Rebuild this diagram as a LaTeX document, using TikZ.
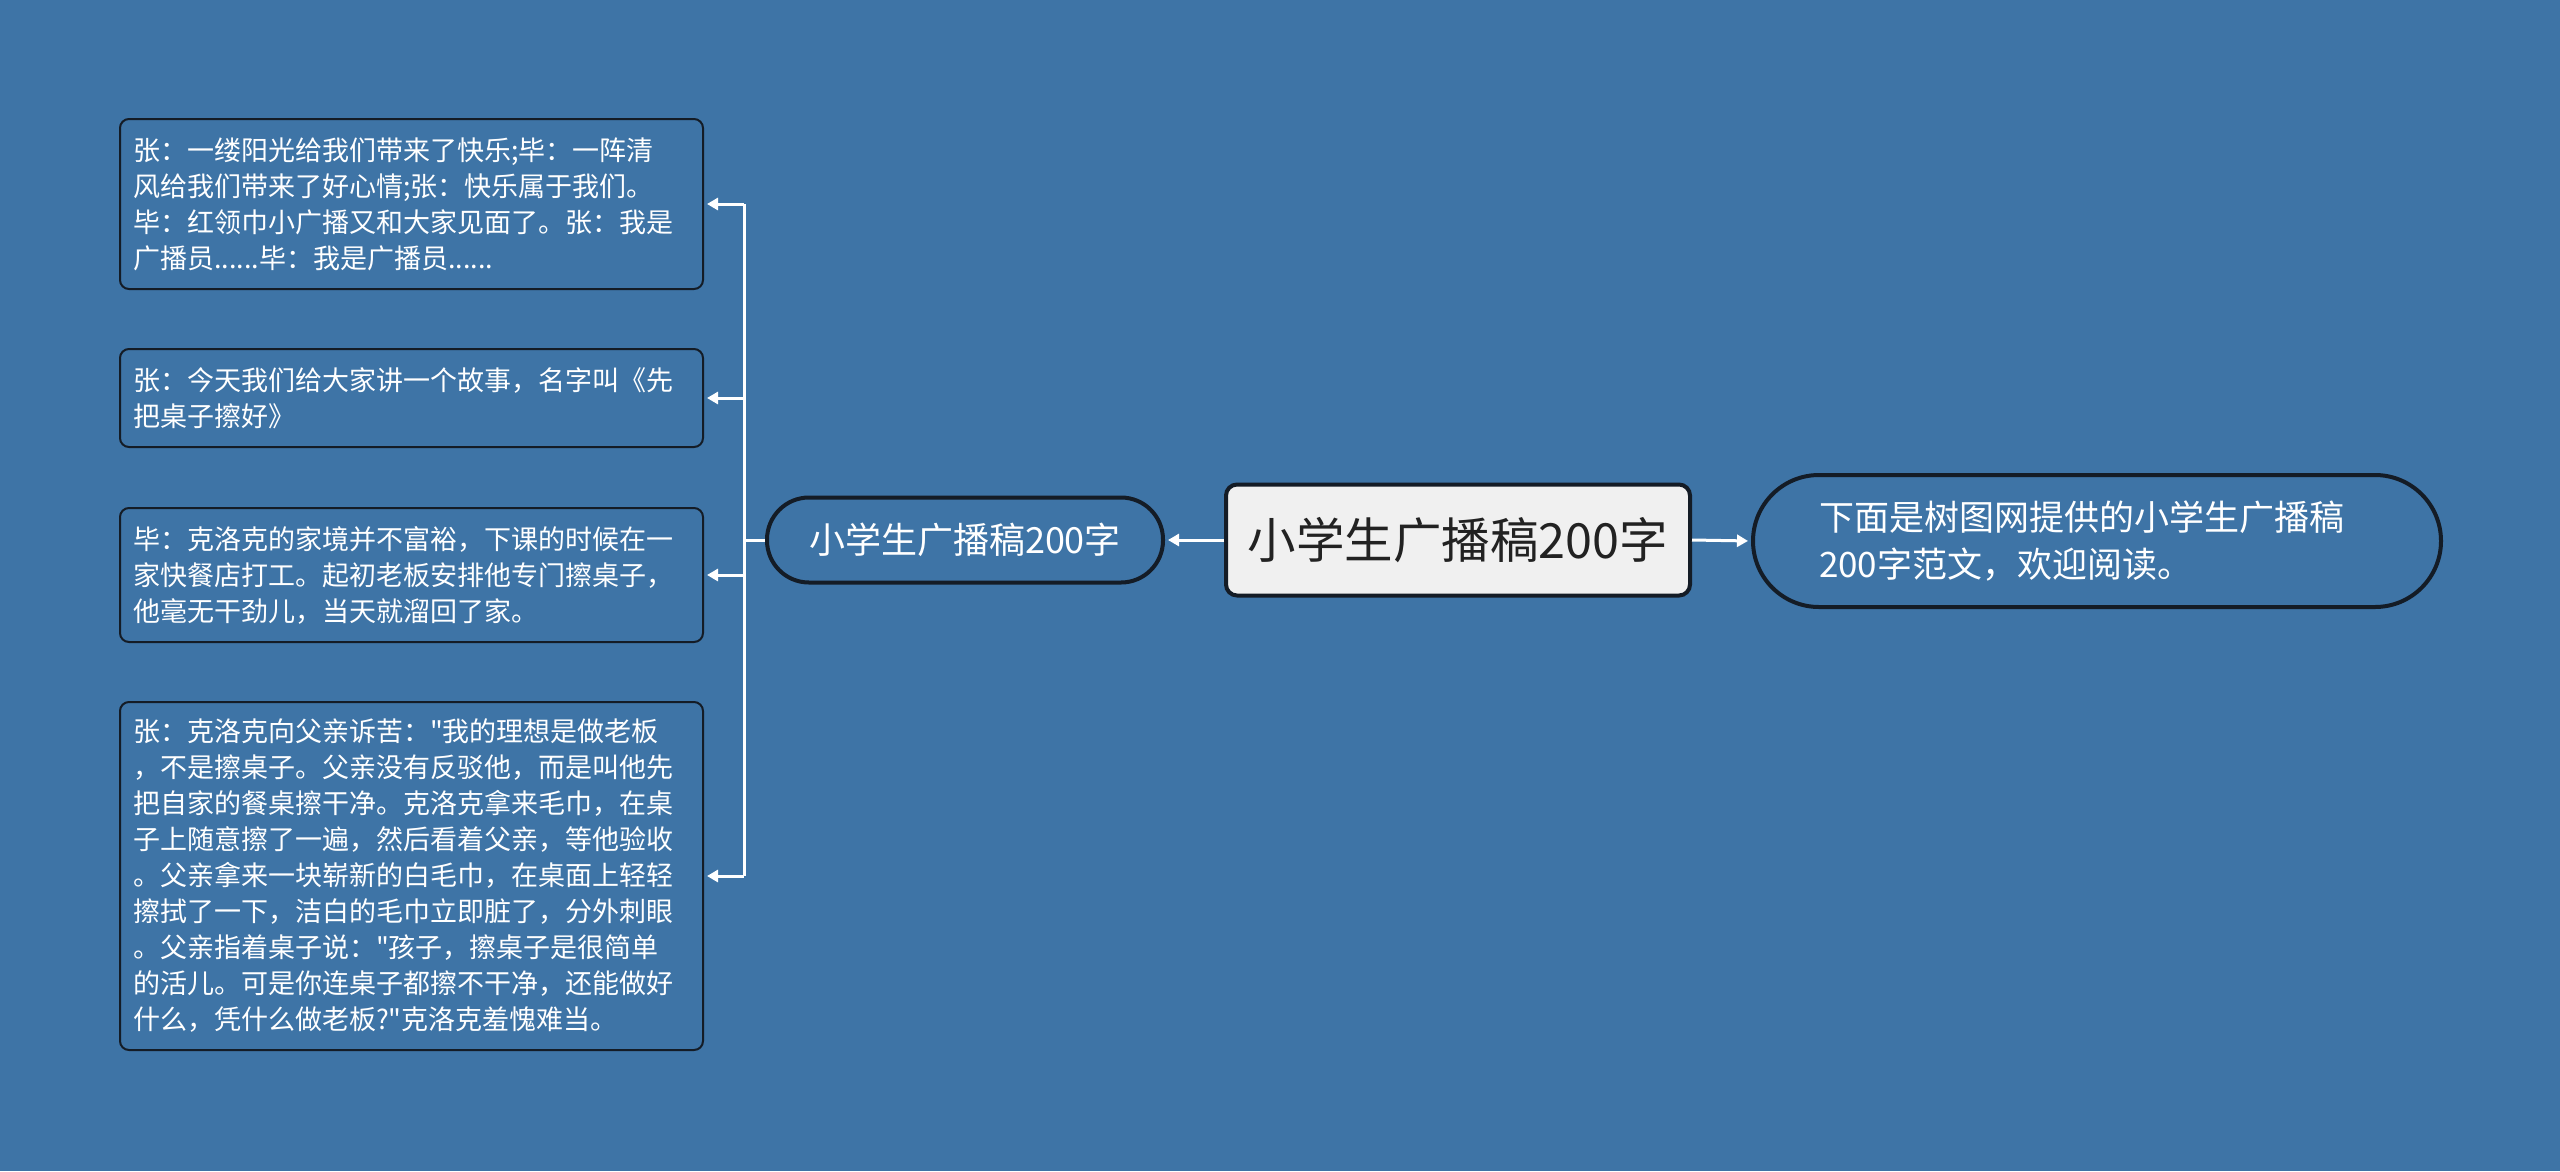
\documentclass[tikz,border=0pt]{standalone}
\usepackage{fontspec}
\setmainfont{Noto Sans CJK SC}
\newfontfamily\cjkfont{Noto Sans CJK SC}
\usetikzlibrary{arrows.meta}
\definecolor{bgblue}{RGB}{62,116,166}
\definecolor{edgedark}{RGB}{20,28,38}
\definecolor{rootfill}{RGB}{240,240,240}
\definecolor{roottext}{RGB}{34,34,34}
\tikzset{
  leafbox/.style={draw=edgedark, line width=2pt, fill=bgblue, rounded corners=9pt,
    text=white, align=left, text width=557pt, inner xsep=13pt, inner ysep=0pt,
    anchor=west, font=\cjkfont\fontsize{27}{36}\selectfont},
  pillbox/.style={draw=edgedark, line width=4pt, fill=bgblue, text=white,
    inner sep=0pt, align=left},
  rootbox/.style={draw=edgedark, line width=4pt, fill=rootfill, text=roottext,
    rounded corners=11pt, inner sep=0pt, font=\cjkfont\fontsize{48.5}{56}\selectfont},
  conn/.style={draw=white, line width=3pt},
  arr/.style={conn, -{Triangle[width=12pt,length=11pt]}, shorten >=3pt},
}
\begin{document}
\begin{tikzpicture}[x=1pt,y=-1pt]
\useasboundingbox[fill=bgblue] (0,0) rectangle (2560,1171);

\node[leafbox, minimum height=170pt] (b1) at (119,204) {张：一缕阳光给我们带来了快乐;毕：一阵清\\风给我们带来了好心情;张：快乐属于我们。\\毕：红领巾小广播又和大家见面了。张：我是\\广播员......毕：我是广播员......};
\node[leafbox, minimum height=98pt] (b2) at (119,398) {张：今天我们给大家讲一个故事，名字叫《先\\把桌子擦好》};
\node[leafbox, minimum height=134pt] (b3) at (119,575) {毕：克洛克的家境并不富裕，下课的时候在一\\家快餐店打工。起初老板安排他专门擦桌子，\\他毫无干劲儿，当天就溜回了家。};
\node[leafbox, minimum height=348pt] (b4) at (119,876) {张：克洛克向父亲诉苦："我的理想是做老板\\，不是擦桌子。父亲没有反驳他，而是叫他先\\把自家的餐桌擦干净。克洛克拿来毛巾，在桌\\子上随意擦了一遍，然后看着父亲，等他验收\\。父亲拿来一块崭新的白毛巾，在桌面上轻轻\\擦拭了一下，洁白的毛巾立即脏了，分外刺眼\\。父亲指着桌子说："孩子，擦桌子是很简单\\的活儿。可是你连桌子都擦不干净，还能做好\\什么，凭什么做老板?"克洛克羞愧难当。};

\node[pillbox, rounded corners=42pt, minimum width=396pt, minimum height=85pt,
  font=\cjkfont\fontsize{36}{44}\selectfont] (sub) at (965,540) {小学生广播稿200字};
\node[rootbox, minimum width=464pt, minimum height=111pt] (root) at (1458,540) {小学生广播稿200字};
\node[pillbox, rounded corners=66pt, text width=556pt, inner xsep=66pt, minimum height=132pt,
  font=\cjkfont\fontsize{35}{47}\selectfont] (desc) at (2097,541) {下面是树图网提供的小学生广播稿\\200字范文，欢迎阅读。};

\coordinate (spine) at (744,540);
\draw[conn] (sub.west) -- (spine);
\draw[conn] (spine |- b1.east) -- (spine |- b4.east);
\foreach \b in {b1,b2,b3,b4} {
  \draw[arr] (spine |- \b.east) -- (\b.east);
}
\draw[arr] (root.west) -- (sub.east);
\draw[arr] (root.east) -- (desc.west);
\end{tikzpicture}
\end{document}
